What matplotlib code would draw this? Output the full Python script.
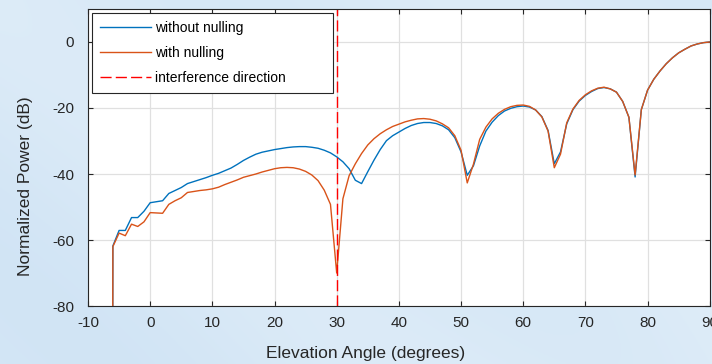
import numpy as np
import matplotlib
matplotlib.use("Agg")
import matplotlib.pyplot as plt

plt.rcParams['font.family'] = ['Liberation Sans', 'DejaVu Sans']
plt.rcParams['axes.unicode_minus'] = False

# Elevation grid (degrees); the first sample sits just below the horizon
elevation = [-6.05] + list(range(-6, 91))

# Normalized array pattern without nulling (dB)
power_without = [
    -120,
    -61.8, -57.1, -57.1, -53.2, -53.2, -51.3, -48.7, -48.4, -48.1, -45.9,
    -45.0, -44.1, -42.9, -42.3, -41.7, -41.1, -40.4, -39.8, -39.0, -38.2,
    -37.1, -35.9, -34.9, -34.0, -33.4, -33.0, -32.6, -32.3, -32.0, -31.8,
    -31.7, -31.7, -31.9, -32.2, -32.8, -33.6, -34.8, -36.3, -38.4, -41.9,
    -42.9, -39.3, -35.8, -32.6, -29.9, -28.4, -27.3, -26.2, -25.3, -24.7,
    -24.4, -24.4, -24.7, -25.4, -26.6, -29.0, -33.3, -40.4, -37.5, -31.5,
    -27.0, -24.3, -22.3, -20.9, -20.1, -19.6, -19.4, -19.7, -20.6, -22.6,
    -26.8, -36.9, -33.3, -24.8, -20.5, -17.9, -16.2, -15.0, -14.1, -13.8,
    -14.2, -15.2, -18.0, -22.8, -40.9, -20.5, -14.6, -11.3, -8.8, -6.6,
    -4.8, -3.3, -2.2, -1.2, -0.6, -0.2, 0.0,
]

# Normalized array pattern with a null steered to the interferer (dB)
power_with = [
    -120,
    -62.0, -57.9, -58.7, -55.2, -55.9, -54.5, -51.7, -51.8, -51.9, -49.2,
    -48.1, -47.2, -45.6, -45.3, -45.0, -44.8, -44.5, -44.0, -43.2, -42.5,
    -41.8, -41.0, -40.5, -40.0, -39.4, -38.9, -38.4, -38.1, -38.0, -38.1,
    -38.5, -39.2, -40.3, -42.0, -44.9, -49.2, -70.0, -47.5, -40.5, -36.9,
    -33.8, -31.2, -29.3, -27.8, -26.6, -25.6, -24.9, -24.2, -23.7, -23.3,
    -23.2, -23.4, -23.9, -24.8, -26.0, -28.4, -32.8, -42.7, -37.0, -29.5,
    -25.8, -23.3, -21.6, -20.4, -19.6, -19.2, -19.1, -19.5, -20.6, -22.7,
    -27.0, -38.1, -34.0, -24.5, -20.3, -17.7, -16.0, -14.8, -14.0, -13.7,
    -14.2, -15.2, -18.0, -22.8, -40.3, -20.5, -14.6, -11.3, -8.8, -6.6,
    -4.8, -3.3, -2.2, -1.2, -0.6, -0.2, 0.0,
]

interference_angle = 30
x_ticks = [-10, 0, 10, 20, 30, 40, 50, 60, 70, 80, 90]
y_ticks = [-80, -60, -40, -20, 0]

fig = plt.figure(figsize=(7.12, 3.64), dpi=100)

# Soft blue backdrop behind the plot
bg = fig.add_axes([0, 0, 1, 1], zorder=-10)
yy, xx = np.mgrid[0:1:200j, 0:1:400j]
shade = 0.45 + 0.08 * np.sin(9 * xx + 5 * yy) + 0.25 * (1 - yy) * (1 - xx) + 0.1 * yy
top = np.array([0.78, 0.87, 0.95])
low = np.array([0.94, 0.97, 0.99])
img = low[None, None, :] * (1 - shade[..., None]) + top[None, None, :] * shade[..., None]
bg.imshow(np.clip(img, 0, 1), aspect='auto', extent=[0, 1, 0, 1], origin='lower')
bg.set_axis_off()

ax = fig.add_axes([0.1236, 0.1593, 0.8732, 0.816])
ax.set_facecolor('white')

ax.plot(elevation, power_without, color='#0072BD', lw=1.0, label='without nulling')
ax.plot(elevation, power_with, color='#D95319', lw=1.0, label='with nulling')
ax.axvline(interference_angle, color='#ff0000', ls=(0, (8, 3)), lw=1.0,
           label='interference direction')

ax.set_xlim(-10, 90)
ax.set_ylim(-80, 10)
ax.set_xticks(x_ticks)
ax.set_yticks(y_ticks)
ax.grid(True, color='#e0e0e0', lw=0.9)
ax.set_axisbelow(True)
ax.tick_params(direction='in', top=True, right=True, labelsize=11,
               length=3.6, width=0.8, colors='#262626')
ax.tick_params(axis='x', pad=7)
ax.tick_params(axis='y', pad=10)
for s in ax.spines.values():
    s.set_color('#262626')
    s.set_linewidth(0.8)

ax.set_xlabel('Elevation Angle (degrees)', fontsize=12.5, color='#262626')
ax.set_ylabel('Normalized Power (dB)', fontsize=12.5, color='#262626')
ax.xaxis.set_label_coords(0.447, -0.133)
ax.yaxis.set_label_coords(-0.088, 0.404)

leg = ax.legend(loc='upper left', bbox_to_anchor=(0.0064, 0.9865, 0.388, 0.0),
                mode='expand', fontsize=10, handlelength=3.7, handletextpad=0.3,
                labelspacing=0.8, borderaxespad=0.0, fancybox=False,
                framealpha=1, edgecolor='#262626', borderpad=0.55)
leg.get_frame().set_linewidth(0.8)

fig.savefig('out.png', dpi=100)
